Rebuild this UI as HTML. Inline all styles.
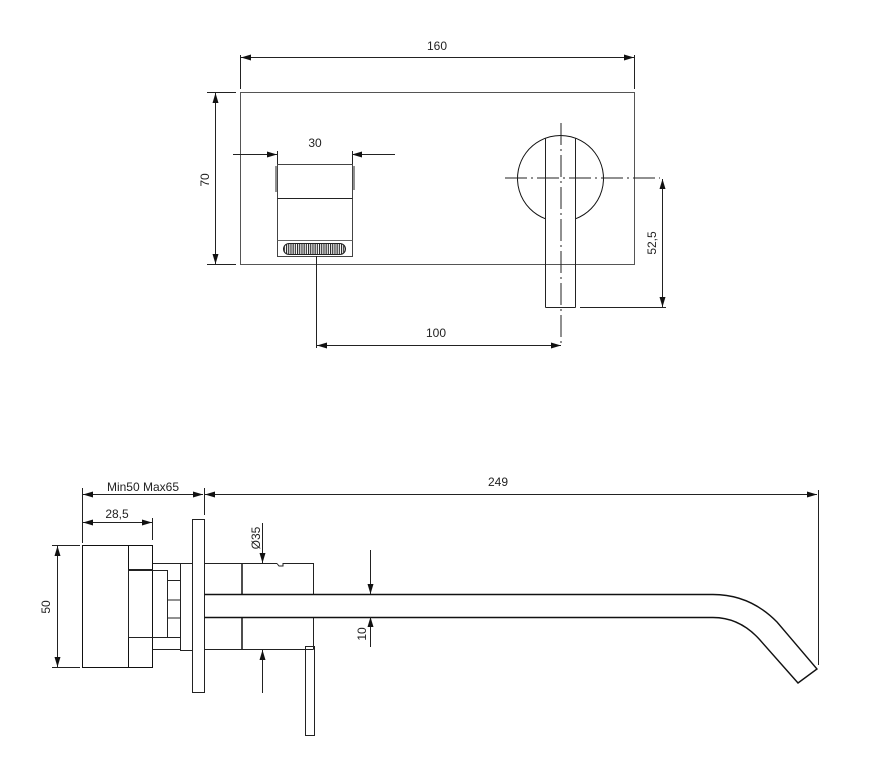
<!DOCTYPE html>
<html><head><style>
html,body{margin:0;padding:0;background:#fff}
svg{display:block}
text{font-family:"Liberation Sans",Arial,sans-serif;font-size:12px;fill:#222}
</style></head><body>
<svg width="879" height="759" viewBox="0 0 879 759" xmlns="http://www.w3.org/2000/svg">
<defs>
<marker id="a" viewBox="0 0 10 6" refX="10" refY="3" markerWidth="10" markerHeight="6" orient="auto-start-reverse" markerUnits="userSpaceOnUse"><path d="M0,0 L10,3 L0,6 z" fill="#111"/></marker>
<pattern id="h" width="2.2" height="4" patternUnits="userSpaceOnUse"><rect width="1.1" height="4" fill="#222"/></pattern>
</defs>
<g fill="none" stroke="#222" stroke-width="1">
<!-- TOP VIEW -->
<rect x="240.5" y="92.5" width="394" height="172" stroke="#555"/>
<!-- 160 -->
<line x1="240.5" y1="55" x2="240.5" y2="89"/>
<line x1="634.5" y1="55" x2="634.5" y2="89"/>
<line x1="241" y1="57.5" x2="634" y2="57.5" marker-start="url(#a)" marker-end="url(#a)"/>
<!-- 70 -->
<line x1="207" y1="92.5" x2="236" y2="92.5"/>
<line x1="207" y1="264.5" x2="236" y2="264.5"/>
<line x1="215.5" y1="93" x2="215.5" y2="264" marker-start="url(#a)" marker-end="url(#a)"/>
<!-- spout box -->
<rect x="277.5" y="164.5" width="75" height="92" stroke="#444"/>
<line x1="277.5" y1="198.5" x2="352.5" y2="198.5"/>
<line x1="277.5" y1="240.5" x2="352.5" y2="240.5" stroke="#666"/>
<line x1="276" y1="166" x2="276" y2="192"/>
<line x1="354" y1="166" x2="354" y2="190"/>
<rect x="283.5" y="243.5" width="62" height="11" rx="5.5" fill="url(#h)" stroke="#222"/>
<!-- 30 -->
<line x1="233" y1="154.5" x2="277" y2="154.5" marker-end="url(#a)"/>
<line x1="352" y1="154.5" x2="395" y2="154.5" marker-start="url(#a)"/>
<line x1="277.5" y1="151" x2="277.5" y2="164"/>
<line x1="352.5" y1="151" x2="352.5" y2="164"/>
<!-- handle + circle -->
<path d="M545.5 218.8 A43 43 0 1 1 575.5 218.8" stroke="#111"/>
<line x1="545.5" y1="138" x2="545.5" y2="307.5"/>
<line x1="575.5" y1="138" x2="575.5" y2="307.5"/>
<line x1="545.5" y1="307.5" x2="575.5" y2="307.5"/>
<line x1="561" y1="123" x2="561" y2="345" stroke-dasharray="22,4,2,4"/>
<line x1="505" y1="178" x2="660" y2="178" stroke-dasharray="22,4,2,4"/>
<!-- 52,5 -->
<line x1="580" y1="307.5" x2="666" y2="307.5"/>
<line x1="662.5" y1="179" x2="662.5" y2="307" marker-start="url(#a)" marker-end="url(#a)"/>
<!-- 100 -->
<line x1="316.5" y1="256" x2="316.5" y2="348"/>
<line x1="317" y1="345.5" x2="561" y2="345.5" marker-start="url(#a)" marker-end="url(#a)"/>

<!-- SIDE VIEW -->
<line x1="82.5" y1="488" x2="82.5" y2="543"/>
<line x1="204.5" y1="488" x2="204.5" y2="515"/>
<line x1="83" y1="494.5" x2="203" y2="494.5" marker-start="url(#a)" marker-end="url(#a)"/>
<line x1="205" y1="494.5" x2="817" y2="494.5" marker-start="url(#a)" marker-end="url(#a)"/>
<line x1="818.5" y1="490" x2="818.5" y2="665"/>
<!-- 28,5 -->
<line x1="152.5" y1="518" x2="152.5" y2="540"/>
<line x1="83" y1="522.5" x2="152" y2="522.5" marker-start="url(#a)" marker-end="url(#a)"/>
<!-- 50 -->
<line x1="52" y1="545.5" x2="80" y2="545.5"/>
<line x1="52" y1="667.5" x2="80" y2="667.5"/>
<line x1="57.5" y1="546" x2="57.5" y2="667" marker-start="url(#a)" marker-end="url(#a)"/>
<!-- knob -->
<rect x="82.5" y="545.5" width="70" height="122" stroke="#111"/>
<line x1="128.5" y1="545.5" x2="128.5" y2="667.5" stroke="#111"/>
<line x1="128.5" y1="569.5" x2="152.5" y2="569.5"/>
<rect x="128.5" y="570.5" width="39" height="67"/>
<line x1="152.5" y1="563.5" x2="180.5" y2="563.5"/>
<line x1="152.5" y1="649.5" x2="180.5" y2="649.5"/>
<rect x="167.5" y="580.5" width="13" height="57"/>
<line x1="167.5" y1="600" x2="180.5" y2="600"/>
<line x1="167.5" y1="618" x2="180.5" y2="618"/>
<rect x="180.5" y="563.5" width="12" height="87"/>
<rect x="192.5" y="519.5" width="12" height="173"/>
<!-- body -->
<line x1="204.5" y1="563.5" x2="277" y2="563.5"/>
<path d="M277 563.5 L279 566 L283 566 L283 563.5 L313.5 563.5 L313.5 594"/>
<line x1="204.5" y1="649.5" x2="313.5" y2="649.5"/>
<line x1="313.5" y1="617" x2="313.5" y2="649.5"/>
<line x1="242" y1="563.5" x2="242" y2="594" stroke-width="1.6"/>
<line x1="242" y1="617" x2="242" y2="649.5" stroke-width="1.6"/>
<rect x="305.5" y="646.5" width="9" height="89"/>
<!-- spout -->
<path d="M204.5 594.5 L713 594.5 Q750 594.5 777 622 L817 669 L798 683 L760 640 Q740 617.5 713 617.5 L204.5 617.5" stroke="#111" stroke-width="1.4"/>
<!-- Ø35 -->
<line x1="262.5" y1="523" x2="262.5" y2="563" marker-end="url(#a)"/>
<line x1="262.5" y1="650" x2="262.5" y2="693" marker-start="url(#a)"/>
<!-- 10 -->
<line x1="370.5" y1="550" x2="370.5" y2="594" marker-end="url(#a)"/>
<line x1="370.5" y1="617" x2="370.5" y2="647" marker-start="url(#a)"/>
</g>
<g>
<text x="437" y="50" text-anchor="middle">160</text>
<text x="315" y="147" text-anchor="middle">30</text>
<text x="436" y="337" text-anchor="middle">100</text>
<text transform="translate(209,180) rotate(-90)" text-anchor="middle">70</text>
<text transform="translate(656,243) rotate(-90)" text-anchor="middle">52,5</text>
<text x="143" y="491" text-anchor="middle">Min50 Max65</text>
<text x="498" y="486" text-anchor="middle">249</text>
<text x="117" y="518" text-anchor="middle">28,5</text>
<text transform="translate(50,607) rotate(-90)" text-anchor="middle">50</text>
<text transform="translate(260,538) rotate(-90)" text-anchor="middle">Ø35</text>
<text transform="translate(366,634) rotate(-90)" text-anchor="middle">10</text>
</g>
</svg>
</body></html>
